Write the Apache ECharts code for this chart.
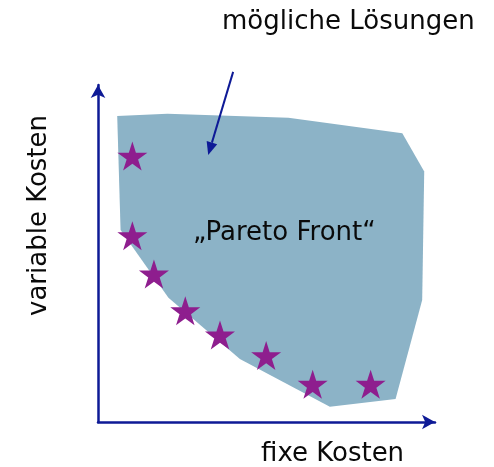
<!DOCTYPE html>
<html>
<head>
<meta charset="utf-8">
<script src="https://cdn.jsdelivr.net/npm/echarts@6/dist/echarts.min.js"></script>
<style>
  html, body { margin: 0; padding: 0; background: #ffffff; }
  #chart { width: 494px; height: 467px; }
</style>
</head>
<body>
<div id="chart"></div>
<script>
// Region of feasible solutions (polygon vertices, axis units 0..100)
const regionX = [5.7, 20.6, 56.5, 90.3, 96.8, 96.2, 88.3, 68.8, 42.1, 20.9, 6.7];
const regionY = [90.8, 91.5, 90.3, 85.7, 74.3, 36.2, 6.8, 4.5, 18.7, 36.9, 57.0];

// Individual solutions (stars)
const solutionX = [10.2, 10.2, 16.6, 25.9, 36.2, 49.9, 63.7, 80.9];
const solutionY = [78.9, 55.3, 43.9, 33.0, 25.8, 19.7, 11.2, 11.2];

// Pointer from the caption into the region (start, end)
const pointerX = [40.1, 32.7];
const pointerY = [103.9, 79.2];

const xLabel = 'fixe Kosten';
const yLabel = 'variable Kosten';
const captionText = 'mögliche Lösungen';
const frontText = '„Pareto Front“';
const frontPos = [55.3, 56.0];

const axisColor = '#0e1a96';
const regionColor = '#8cb3c7';
const starColor = '#8e1e8e';
const textColor = '#0a0a0a';
const font = '"DejaVu Sans", Verdana, sans-serif';

const starPath = 'path://M50,0 L61.8,36.2 L100,36.2 L69.1,58.6 L80.9,95.1 L50,72.7 L19.1,95.1 L30.9,58.6 L0,36.2 L38.2,36.2 Z';

const regionData = regionX.map((x, i) => [x, regionY[i]]);
const solutionData = solutionX.map((x, i) => [x, solutionY[i]]);
const pointerData = pointerX.map((x, i) => [x, pointerY[i]]);

const chart = echarts.init(document.getElementById('chart'), null, { renderer: 'canvas' });

chart.setOption({
  animation: false,
  grid: { left: 98, right: 59, top: 85, bottom: 45 },
  xAxis: {
    type: 'value', min: 0, max: 100,
    axisLine: { show: true, lineStyle: { color: axisColor, width: 2.5 }, symbol: ['none', 'arrow'], symbolSize: [11, 13] },
    axisTick: { show: false }, axisLabel: { show: false }, splitLine: { show: false }
  },
  yAxis: {
    type: 'value', min: 0, max: 100,
    axisLine: { show: true, lineStyle: { color: axisColor, width: 2.5 }, symbol: ['none', 'arrow'], symbolSize: [11, 13] },
    axisTick: { show: false }, axisLabel: { show: false }, splitLine: { show: false }
  },
  graphic: [
    { type: 'text', left: 222, top: 9, style: { text: captionText, font: '26px ' + font, fill: textColor } },
    { type: 'text', left: 261, top: 441, style: { text: xLabel, font: '26px ' + font, fill: textColor } },
    { type: 'text', x: 26, y: 316, rotation: Math.PI / 2, style: { text: yLabel, font: '26px ' + font, fill: textColor } }
  ],
  series: [
    {
      type: 'custom',
      clip: false,
      data: regionData,
      z: 1,
      renderItem: function (params, api) {
        if (params.dataIndex !== 0) return;
        const pts = regionData.map(p => api.coord(p));
        return { type: 'polygon', shape: { points: pts }, style: { fill: regionColor } };
      }
    },
    {
      // pointer arrow: shaft plus filled head, both from data coordinates
      type: 'custom',
      clip: false,
      data: pointerData,
      z: 4,
      renderItem: function (params, api) {
        if (params.dataIndex !== 0) return;
        const a = api.coord(pointerData[0]);
        const b = api.coord(pointerData[1]);
        const dx = b[0] - a[0], dy = b[1] - a[1];
        const len = Math.sqrt(dx * dx + dy * dy);
        const ux = dx / len, uy = dy / len;
        const headL = 13, headW = 5.5;
        const base = [b[0] - ux * headL, b[1] - uy * headL];
        return {
          type: 'group',
          children: [
            { type: 'line', shape: { x1: a[0], y1: a[1], x2: base[0], y2: base[1] },
              style: { stroke: axisColor, lineWidth: 2 } },
            { type: 'polygon', shape: { points: [
                b,
                [base[0] - uy * headW, base[1] + ux * headW],
                [base[0] + uy * headW, base[1] - ux * headW]
              ] }, style: { fill: axisColor } }
          ]
        };
      }
    },
    {
      type: 'scatter',
      clip: false,
      z: 3,
      data: solutionData,
      symbol: starPath,
      symbolSize: [30, 29],
      itemStyle: { color: starColor, opacity: 1 },
      markPoint: {
        silent: true,
        symbol: 'circle', symbolSize: 0,
        label: { show: true, formatter: frontText, fontFamily: font, fontSize: 26, color: textColor, position: 'inside' },
        data: [{ coord: frontPos }]
      }
    }
  ]
});
</script>
</body>
</html>
